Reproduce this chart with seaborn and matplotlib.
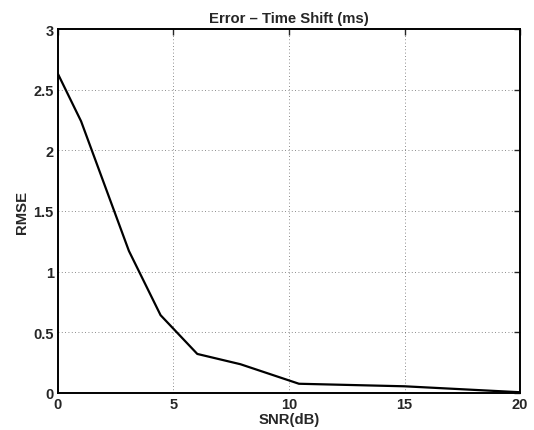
import matplotlib
matplotlib.use("Agg")
import matplotlib.pyplot as plt
import seaborn as sns
import pandas as pd

# Datos
snr_db = [0, 1, 3.07, 4.44, 6.03, 7.9, 10.43, 15, 20]
rmse = [2.63, 2.24, 1.17, 0.64, 0.32, 0.235, 0.074, 0.053, 0.004]
x_ticks = [0, 5, 10, 15, 20]
y_ticks = [0, 0.5, 1, 1.5, 2, 2.5, 3]
y_tick_labels = ["0", "0.5", "1", "1.5", "2", "2.5", "3"]

sns.set_style("white")
plt.rcParams["font.family"] = ["Liberation Sans", "DejaVu Sans"]
plt.rcParams["font.weight"] = "bold"

df = pd.DataFrame({"SNR(dB)": snr_db, "RMSE": rmse})

fig = plt.figure(figsize=(5.34, 4.31), dpi=100)
ax = fig.add_axes([0.1086, 0.0865, 0.8652, 0.8435])

sns.lineplot(data=df, x="SNR(dB)", y="RMSE", color="black", linewidth=1.6, ax=ax)

ax.set_xlim(0, 20)
ax.set_ylim(0, 3)
ax.set_xticks(x_ticks)
ax.set_yticks(y_ticks)
ax.set_yticklabels(y_tick_labels)
ax.grid(True, linestyle=(0, (1, 3)), color="black", linewidth=0.6, alpha=0.6)

for s in ax.spines.values():
    s.set_color("black")
    s.set_linewidth(1.4)
ax.tick_params(direction="in", length=4, width=1, top=True, right=True,
               labelsize=10.5, pad=3)
for lbl in ax.get_xticklabels() + ax.get_yticklabels():
    lbl.set_fontweight("bold")

ax.set_title("Error \u2013 Time Shift (ms)", fontsize=10.7, fontweight="bold", pad=5)
ax.set_xlabel("SNR(dB)", fontsize=10.7, fontweight="bold", labelpad=1)
ax.set_ylabel("RMSE", fontsize=10.7, fontweight="bold", labelpad=3)

fig.savefig("out.png", dpi=100)
